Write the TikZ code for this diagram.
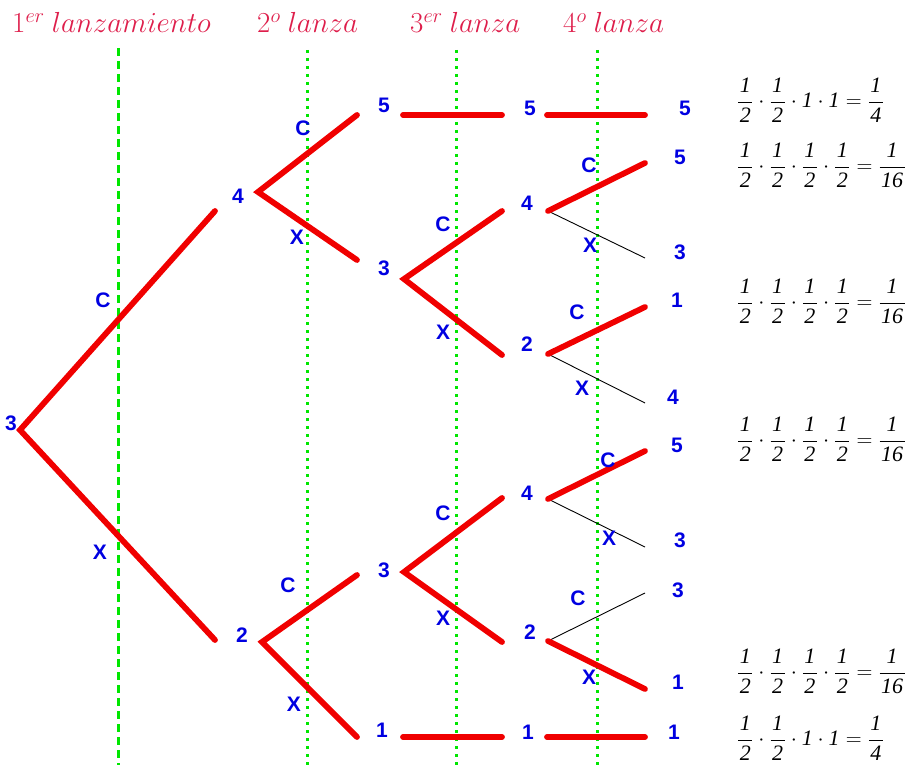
\RequirePackage{fix-cm}
\documentclass[tikz,border=0pt]{standalone}
\usepackage{fontspec}
\usepackage{amsmath}
\setmainfont{Liberation Serif}
\setsansfont{Liberation Sans}
\definecolor{branchred}{RGB}{240,0,0}
\definecolor{labelblue}{RGB}{0,0,225}
\definecolor{guidegreen}{RGB}{0,230,0}
\definecolor{headcol}{RGB}{222,30,75}
% probability fractions in italic serif digits
\newcommand\pf[2]{\dfrac{\mbox{\itshape\kern1.5pt#1\kern1.5pt}}{\mbox{\itshape\kern1.5pt#2\kern1.5pt}}}
\begin{document}
\begin{tikzpicture}[x=1pt,y=-1pt,
  branch/.style={draw=branchred,line width=5.8pt,line cap=round},
  thinbranch/.style={draw=black,line width=0.9pt},
  guidedash/.style={draw=guidegreen,line width=3pt,dash pattern=on 8pt off 5pt},
  guidedot/.style={draw=guidegreen,line width=3pt,dash pattern=on 3pt off 5pt},
  val/.style={text=labelblue,font=\sffamily\bfseries\fontsize{21}{23}\selectfont,inner sep=0pt},
  side/.style={text=labelblue,font=\sffamily\bfseries\fontsize{21}{23}\selectfont,inner sep=0pt},
  head/.style={text=headcol,inner sep=0pt,anchor=base west,font=\fontsize{29}{33}\selectfont},
  prob/.style={inner sep=0pt,anchor=base west,font=\fontsize{22}{26}\selectfont}]
\useasboundingbox (0,0) rectangle (908,765);

% column headings
\node[head] (h1) at (12,33) {$1^{er}\ lanzamiento$};
\node[head] (h2) at (257,33) {$2^{o}\ lanza$};
\node[head] (h3) at (410,33) {$3^{er}\ lanza$};
\node[head] (h4) at (563,33) {$4^{o}\ lanza$};

% vertical guides
\coordinate (g1t) at (118,48);  \coordinate (g1b) at (118,765);
\coordinate (g2t) at (307,50);  \coordinate (g2b) at (307,765);
\coordinate (g3t) at (456,50);  \coordinate (g3b) at (456,765);
\coordinate (g4t) at (597,50);  \coordinate (g4b) at (597,765);
\draw[guidedash] (g1t) -- (g1b);
\draw[guidedot] (g2t) -- (g2b);
\draw[guidedot] (g3t) -- (g3b);
\draw[guidedot] (g4t) -- (g4b);

% branch points and end points
\coordinate (v0) at (20,430);
\coordinate (e0a) at (215,211); \coordinate (e0b) at (215,640);
\coordinate (v1a) at (258,192);
\coordinate (e1a) at (357,115); \coordinate (e1b) at (357,260);
\coordinate (v1b) at (262,642);
\coordinate (e1c) at (357,575); \coordinate (e1d) at (357,737);
\coordinate (s2a) at (403,115); \coordinate (t2a) at (502,115);
\coordinate (v2b) at (404,279);
\coordinate (e2a) at (502,211); \coordinate (e2b) at (502,355);
\coordinate (v2c) at (404,572);
\coordinate (e2c) at (502,498); \coordinate (e2d) at (502,642);
\coordinate (s2d) at (403,737); \coordinate (t2d) at (502,737);
\coordinate (s3a) at (547,115); \coordinate (t3a) at (645,115);
\coordinate (v3b) at (548,211);
\coordinate (e3a) at (645,163); \coordinate (e3b) at (645,258);
\coordinate (v3c) at (548,354);
\coordinate (e3c) at (645,307); \coordinate (e3d) at (645,403);
\coordinate (v3d) at (548,499);
\coordinate (e3e) at (645,451); \coordinate (e3f) at (645,547);
\coordinate (v3e) at (548,641);
\coordinate (e3g) at (645,593); \coordinate (e3h) at (645,689);
\coordinate (s3f) at (547,737); \coordinate (t3f) at (645,737);

% thin branches
\draw[thinbranch] (v3b) -- (e3b);
\draw[thinbranch] (v3c) -- (e3d);
\draw[thinbranch] (v3d) -- (e3f);
\draw[thinbranch] (v3e) -- (e3g);

% thick branches
\draw[branch] (e0a) -- (v0) -- (e0b);
\draw[branch] (e1a) -- (v1a) -- (e1b);
\draw[branch] (e1c) -- (v1b) -- (e1d);
\draw[branch] (s2a) -- (t2a);
\draw[branch] (e2a) -- (v2b) -- (e2b);
\draw[branch] (e2c) -- (v2c) -- (e2d);
\draw[branch] (s2d) -- (t2d);
\draw[branch] (s3a) -- (t3a);
\draw[branch] (v3b) -- (e3a);
\draw[branch] (v3c) -- (e3c);
\draw[branch] (v3d) -- (e3e);
\draw[branch] (v3e) -- (e3h);
\draw[branch] (s3f) -- (t3f);

% values
\node[val] (n0)  at (11,423) {3};
\node[val] (n1a) at (238,196) {4};
\node[val] (n1b) at (242,635) {2};
\node[val] (n2a) at (384,105) {5};
\node[val] (n2b) at (384,268) {3};
\node[val] (n2c) at (384,570) {3};
\node[val] (n2d) at (382,730) {1};
\node[val] (n3a) at (530,108) {5};
\node[val] (n3b) at (527,203) {4};
\node[val] (n3c) at (527,344) {2};
\node[val] (n3d) at (527,493) {4};
\node[val] (n3e) at (530,632) {2};
\node[val] (n3f) at (528,732) {1};
\node[val] (r1)  at (685,108) {5};
\node[val] (r2)  at (680,157) {5};
\node[val] (r3)  at (680,252) {3};
\node[val] (r4)  at (677,300) {1};
\node[val] (r5)  at (673,397) {4};
\node[val] (r6)  at (677,445) {5};
\node[val] (r7)  at (680,540) {3};
\node[val] (r8)  at (678,590) {3};
\node[val] (r9)  at (678,682) {1};
\node[val] (r10) at (674,732) {1};

% outcome letters
\node[side] (c0) at (103,300) {C};
\node[side] (x0) at (100,552) {X};
\node[side] (c1a) at (303,128) {C};
\node[side] (x1a) at (297,237) {X};
\node[side] (c1b) at (288,585) {C};
\node[side] (x1b) at (294,704) {X};
\node[side] (c2b) at (443,224) {C};
\node[side] (x2b) at (443,332) {X};
\node[side] (c2c) at (443,513) {C};
\node[side] (x2c) at (443,618) {X};
\node[side] (c3b) at (589,165) {C};
\node[side] (x3b) at (590,245) {X};
\node[side] (c3c) at (577,312) {C};
\node[side] (x3c) at (582,388) {X};
\node[side] (c3d) at (608,460) {C};
\node[side] (x3d) at (609,538) {X};
\node[side] (c3e) at (578,598) {C};
\node[side] (x3e) at (589,677) {X};

% path probabilities
\node[prob] (p1) at (737,107.5) {$\pf12\cdot\pf12\cdot\mbox{\itshape 1}\cdot\mbox{\itshape 1}=\pf14$};
\node[prob] (p2) at (737,172.5) {$\pf12\cdot\pf12\cdot\pf12\cdot\pf12=\pf1{16}$};
\node[prob] (p3) at (737,308.5) {$\pf12\cdot\pf12\cdot\pf12\cdot\pf12=\pf1{16}$};
\node[prob] (p4) at (737,446.5) {$\pf12\cdot\pf12\cdot\pf12\cdot\pf12=\pf1{16}$};
\node[prob] (p5) at (737,678.5) {$\pf12\cdot\pf12\cdot\pf12\cdot\pf12=\pf1{16}$};
\node[prob] (p6) at (737,745.5) {$\pf12\cdot\pf12\cdot\mbox{\itshape 1}\cdot\mbox{\itshape 1}=\pf14$};
\end{tikzpicture}
\end{document}
